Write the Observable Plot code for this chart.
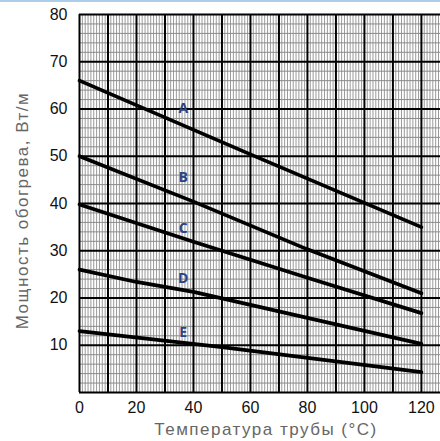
<!DOCTYPE html>
<html>
<head>
<meta charset="utf-8">
<script src="https://cdn.jsdelivr.net/npm/d3@7"></script>
<script src="https://cdn.jsdelivr.net/npm/@observablehq/plot@0.6"></script>
<style>
  html, body { margin: 0; padding: 0; background: #fff; }
  #wrap { position: relative; width: 440px; height: 441px; overflow: hidden; }
  #topline { position: absolute; left: 0; top: 0; width: 440px; height: 2px; background: #aecde9; }
</style>
</head>
<body>
<div id="wrap"><div id="topline"></div></div>
<script>
// Data
const seriesNames = ["A", "B", "C", "D", "E"];
const tempsA = [0, 60, 120];
const powerA = [66, 50.4, 35];
const tempsB = [0, 40, 80, 120];
const powerB = [50, 40.4, 30.3, 21];
const tempsC = [0, 40, 80, 120];
const powerC = [39.8, 31.9, 24.3, 16.8];
const tempsD = [0, 20, 40, 80, 120];
const powerD = [26, 23.4, 21.3, 15.8, 10.3];
const tempsE = [0, 50, 120];
const powerE = [13, 9.6, 4.3];
const labelX = [36.4, 36.4, 36.4, 36.4, 36.4];
const labelY = [60.2, 45.4, 34.6, 24.2, 12.75];
const xTicks = [0, 20, 40, 60, 80, 100, 120];
const yTicks = [10, 20, 30, 40, 50, 60, 70, 80];
const xTitle = "Температура трубы (°C)";
const yTitle = "Мощность обогрева, Вт/м";

const temps = [tempsA, tempsB, tempsC, tempsD, tempsE];
const powers = [powerA, powerB, powerC, powerD, powerE];
const curves = seriesNames.flatMap((s, i) => temps[i].map((t, j) => ({series: s, t, p: powers[i][j]})));
const labels = seriesNames.map((s, i) => ({s, x: labelX[i], y: labelY[i]}));

const xMax = 126.7;
const chart = Plot.plot({
  width: 440,
  height: 441,
  marginLeft: 79,
  marginRight: 0,
  marginTop: 14,
  marginBottom: 49,
  style: {fontFamily: "'Liberation Sans', Arial, sans-serif", fontSize: "16px", color: "#111", background: "transparent"},
  x: {domain: [0, xMax], axis: null},
  y: {domain: [0, 80], axis: null},
  marks: [
    Plot.ruleX(d3.range(1, 127, 1).filter(v => v % 10 !== 0), {stroke: "#9a9a9a", strokeWidth: 1}),
    Plot.ruleY(d3.range(2, 80, 2).filter(v => v % 10 !== 0), {stroke: "#8a8a8a", strokeWidth: 1}),
    Plot.ruleX(d3.range(0, 121, 10), {stroke: "#000", strokeWidth: 2}),
    Plot.ruleY(d3.range(0, 81, 10), {stroke: "#000", strokeWidth: 2}),
    Plot.line(curves, {x: "t", y: "p", z: "series", stroke: "#000", strokeWidth: 3.7}),
    Plot.text(labels, {x: "x", y: "y", text: "s", fill: "#2c4487", fontWeight: "bold", fontSize: 14, fontFamily: "'Open Sans', sans-serif"}),
    Plot.axisX(xTicks, {tickSize: 0, tickPadding: 9, fontSize: 16, fill: "#111", label: null}),
    Plot.axisY(yTicks, {tickSize: 0, tickPadding: 12, fontSize: 16, fill: "#111", label: null}),
    Plot.text([xTitle], {frameAnchor: "bottom", lineAnchor: "middle", textAnchor: "middle", dy: 37, dx: 6, fontSize: 17, fill: "#666", text: d => d}),
    Plot.text([yTitle], {frameAnchor: "left", lineAnchor: "middle", textAnchor: "middle", dx: -57, dy: 7, rotate: -90, fontSize: 17, fill: "#666", text: d => d})
  ]
});
d3.select(chart).selectAll("text")
  .filter(function() { return this.textContent === xTitle || this.textContent === yTitle; })
  .attr("letter-spacing", "1.5px");
document.getElementById("wrap").appendChild(chart);
</script>
</body>
</html>
